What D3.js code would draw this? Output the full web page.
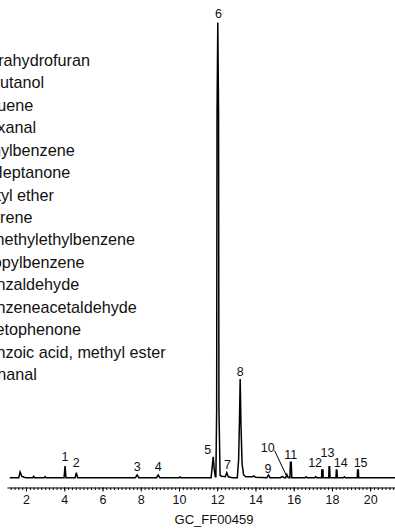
<!DOCTYPE html>
<html>
<head>
<meta charset="utf-8">
<script src="https://cdn.jsdelivr.net/npm/d3@7"></script>
<style>
  html, body { margin: 0; padding: 0; background: #fff; }
  svg { display: block; font-family: "Liberation Sans", Arial, sans-serif; }
</style>
</head>
<body>
<svg id="chart" width="395" height="529"></svg>
<script>
// ---- data ----
const compounds = [
  "Tetrahydrofuran", "1-butanol", "Toluene", "Hexanal", "Ethylbenzene",
  "2-Heptanone", "Butyl ether", "Styrene", "1-methylethylbenzene",
  "Propylbenzene", "Benzaldehyde", "Benzeneacetaldehyde", "Acetophenone",
  "Benzoic acid, methyl ester", "Nonanal"
];
const peakNumbers = [1,2,3,4,5,6,7,8,9,10,11,12,13,14,15];
const peakTimes   = [4.04, 4.63, 7.81, 8.91, 11.79, 12.03, 12.50, 13.20, 14.68, 15.64, 15.85, 17.50, 17.87, 18.25, 19.36];
const peakHeights = [2.57, 1.10, 0.60, 0.60, 4.60, 100, 1.10, 21.7, 0.60, 0.70, 3.40, 1.70, 2.40, 1.70, 1.70];
const labelTimes  = [4.04, 4.63, 7.81, 8.91, 11.50, 12.06, 12.54, 13.20, 14.66, 14.64, 15.84, 17.12, 17.77, 18.46, 19.50];
const labelValues = [3.66, 2.35, 1.54, 1.54, 5.20, 100.9, 1.90, 22.3, 1.10, 5.70, 4.10, 2.35, 4.54, 2.41, 2.41];
const leaderPeaks = [10];

// chromatogram trace: retention time (min) and relative signal
const traceTime = [
  1.15, 1.62, 1.69, 1.78, 1.90, 2.00, 2.35, 2.40, 2.45, 2.95, 3.00, 3.05,
  3.99, 4.04, 4.09, 4.57, 4.63, 4.70, 7.72, 7.81, 7.90, 8.83, 8.91, 9.00,
  10.00, 10.05, 10.10,
  11.68, 11.74, 11.79, 11.84, 11.90,
  11.93, 11.97, 11.99, 12.03, 12.07, 12.09, 12.15,
  12.22, 12.42, 12.50, 12.58, 12.80,
  13.05, 13.12, 13.17, 13.20, 13.24, 13.30, 13.38, 13.50,
  13.85, 13.92, 14.00, 14.60, 14.68, 14.76, 15.30, 15.40, 15.50,
  15.58, 15.64, 15.70, 15.80, 15.83, 15.87, 15.90,
  16.60, 16.65, 16.70, 17.10, 17.15, 17.20,
  17.46, 17.47, 17.53, 17.54, 17.83, 17.85, 17.88, 17.90,
  18.21, 18.23, 18.26, 18.28, 18.60, 18.65, 18.70,
  19.32, 19.34, 19.38, 19.40, 21.40
];
const traceSignal = [
  0, 0, 1.25, 0.30, 0.10, 0, 0, 0.30, 0, 0, 0.25, 0,
  0, 2.57, 0, 0, 1.10, 0, 0, 0.60, 0, 0, 0.60, 0,
  0, 0.15, 0,
  0, 2.50, 4.60, 2.00, 0.20,
  0.20, 15, 80, 100, 80, 15, 0.50,
  0.30, 0.20, 1.10, 0.20, 0,
  0, 4, 14, 21.7, 12, 3, 0.60, 0.20,
  0.20, 0.40, 0.10, 0, 0.60, 0, 0, 0.25, 0,
  0, 0.70, 0.10, 0, 3.40, 3.40, 0,
  0, 0.20, 0, 0, 0.25, 0,
  0, 1.70, 1.70, 0, 0, 2.40, 2.40, 0,
  0, 1.70, 1.70, 0, 0, 0.20, 0,
  0, 1.70, 1.70, 0, 0
];
const majorTicks = [2, 4, 6, 8, 10, 12, 14, 16, 18, 20];
const minorTicks = d3.range(12, 214, 2).map(d => d / 10);
const xTitle = "GC_FF00459";

// ---- drawing ----
const svg = d3.select("#chart");
const x = d3.scaleLinear().domain([1, 21.35]).range([6.9, 396]);
const y = d3.scaleLinear().domain([0, 100]).range([477.7, 22.5]);

// legend (left-aligned list, partially off canvas as in the reference)
svg.append("g").selectAll("text").data(compounds).join("text")
  .attr("x", -23.4)
  .attr("y", (d, i) => 66 + i * 22.43)
  .attr("font-size", 16.2)
  .attr("fill", "#111")
  .text(d => d);

// trace
const pts = traceTime.map((t, i) => [t, traceSignal[i]]);
svg.append("path")
  .datum(pts)
  .attr("fill", "none")
  .attr("stroke", "#000")
  .attr("stroke-width", 1.5)
  .attr("stroke-linejoin", "miter")
  .attr("d", d3.line().x(d => x(d[0])).y(d => y(d[1])));

// peak labels
const labels = svg.append("g").attr("font-size", 12.5).attr("text-anchor", "middle").attr("fill", "#111");
peakNumbers.forEach((n, i) => {
  labels.append("text")
    .attr("x", x(labelTimes[i]))
    .attr("y", y(labelValues[i]))
    .text(n);
  if (leaderPeaks.includes(n)) {
    svg.append("line")
      .attr("x1", x(labelTimes[i]) + 7).attr("y1", y(labelValues[i]) - 1)
      .attr("x2", x(peakTimes[i]) - 0.5).attr("y2", y(peakHeights[i]) + 1)
      .attr("stroke", "#000").attr("stroke-width", 1);
  }
});

// x axis
const axisY = 487.5;
const gMinor = svg.append("g").attr("transform", `translate(0,${axisY})`)
  .call(d3.axisBottom(x).tickValues(minorTicks).tickSize(2.5).tickFormat(""));
gMinor.select(".domain").remove();
gMinor.selectAll("line").attr("stroke", "#000");
const gMajor = svg.append("g").attr("transform", `translate(0,${axisY})`)
  .call(d3.axisBottom(x).tickValues(majorTicks).tickSize(4).tickPadding(4).tickSizeOuter(0));
gMajor.select(".domain").attr("stroke", "#000").attr("stroke-width", 1.2);
gMajor.selectAll("line").attr("stroke", "#000");
gMajor.selectAll("text").attr("font-size", 12.5).attr("fill", "#111")
  .attr("font-family", '"Liberation Sans", Arial, sans-serif');

svg.append("text")
  .attr("x", 214).attr("y", 524)
  .attr("text-anchor", "middle")
  .attr("font-size", 13)
  .attr("fill", "#111")
  .text(xTitle);
</script>
</body>
</html>
